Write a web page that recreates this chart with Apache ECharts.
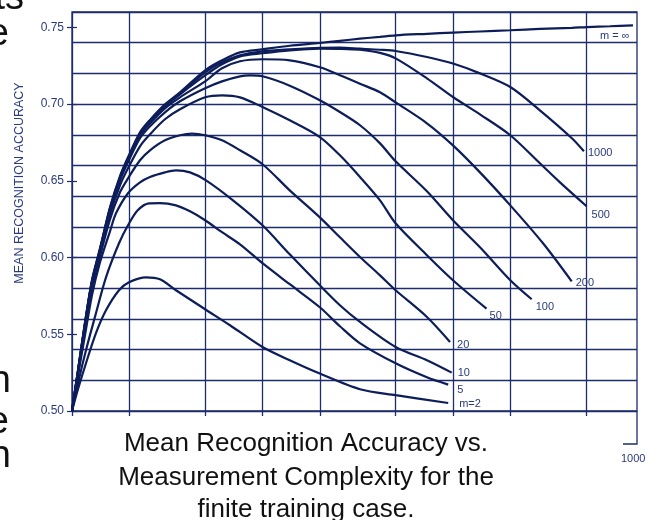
<!DOCTYPE html>
<html><head><meta charset="utf-8">
<script src="https://cdn.jsdelivr.net/npm/echarts@6/dist/echarts.min.js"></script>
<style>html,body{margin:0;padding:0;background:#fff}#c{width:657px;height:520px}</style>
</head><body><div id="c"></div>
<script>
// ---- data ----
const xGridValues = [1, 2, 5, 10, 20, 50, 100, 200, 500];
const yLabelValues = [0.50, 0.55, 0.60, 0.65, 0.70, 0.75];
const seriesNames = ['m = ∞', '1000', '500', '200', '100', '50', '20', '10', '5', 'm=2'];
const captionLines = ['Mean Recognition Accuracy vs.', 'Measurement Complexity for the', 'finite training case.'];
const yTitle = 'MEAN RECOGNITION ACCURACY';

const mInf = [[1,0.500],[1.075,0.5265],[1.17,0.5578],[1.273,0.5852],[1.403,0.6060],[1.583,0.6327],[1.786,0.6530],[1.968,0.6653],[2.275,0.6816],[2.567,0.6897],[3.077,0.6998],[3.69,0.7077],[5,0.7220],[6.13,0.7285],[7.62,0.7337],[10,0.7357],[13.9,0.7380],[20,0.7398],[25.5,0.7412],[32.5,0.7426],[41.4,0.7438],[50,0.7448],[73,0.7458],[100,0.7466],[138.6,0.7473],[200,0.7481],[286,0.7490],[421,0.7497],[505,0.7502],[667,0.7507],[881,0.7513]];
const m1000 = [[1,0.500],[1.075,0.5262],[1.17,0.5572],[1.273,0.5845],[1.403,0.6054],[1.583,0.6321],[1.786,0.6523],[1.968,0.6647],[2.275,0.6809],[2.567,0.6891],[3.077,0.6992],[3.69,0.7070],[5,0.7207],[6.13,0.7272],[7.62,0.7318],[10,0.7344],[13.9,0.7357],[20,0.7367],[25.5,0.7368],[32.5,0.7361],[41.4,0.7354],[50,0.7346],[73,0.7307],[100,0.7264],[138.6,0.7200],[200,0.7111],[286,0.6959],[421,0.6777],[487,0.6692]];
const m500 = [[1,0.500],[1.075,0.5259],[1.17,0.5568],[1.273,0.5842],[1.403,0.6050],[1.583,0.6314],[1.786,0.6516],[1.968,0.6640],[2.275,0.6803],[2.567,0.6881],[3.077,0.6985],[3.69,0.7064],[5,0.7187],[6.13,0.7259],[7.62,0.7311],[10,0.7331],[13.9,0.7350],[20,0.7361],[25.5,0.7360],[32.5,0.7354],[41.4,0.7334],[50,0.7298],[73,0.7168],[100,0.7046],[138.6,0.6933],[200,0.6797],[286,0.6614],[364.6,0.6490],[503,0.6334]];
const m200 = [[1,0.500],[1.075,0.5256],[1.17,0.5565],[1.273,0.5839],[1.403,0.6047],[1.583,0.6308],[1.786,0.6510],[1.968,0.6634],[2.275,0.6797],[2.567,0.6875],[3.077,0.6972],[3.69,0.7044],[5,0.7148],[6.13,0.7233],[7.62,0.7279],[10,0.7292],[13.9,0.7285],[20,0.7240],[25.5,0.7188],[32.5,0.7133],[41.4,0.7077],[50,0.7011],[73,0.6875],[100,0.6731],[138.6,0.6555],[200,0.6340],[297,0.6093],[420,0.5845]];
const m100 = [[1,0.500],[1.075,0.5253],[1.17,0.5559],[1.273,0.5832],[1.403,0.6041],[1.583,0.6301],[1.786,0.6503],[1.968,0.6621],[2.275,0.6777],[2.567,0.6855],[3.077,0.6946],[3.69,0.7018],[5,0.7103],[6.13,0.7148],[7.62,0.7181],[8.6,0.7187],[10,0.7181],[13.9,0.7120],[20,0.7025],[25.5,0.6948],[32.5,0.6862],[41.4,0.6744],[50,0.6627],[73,0.6432],[100,0.6243],[138.6,0.6067],[200,0.5852],[259,0.5728]];
const m50 = [[1,0.500],[1.075,0.5250],[1.17,0.5546],[1.273,0.5819],[1.403,0.6021],[1.583,0.6282],[1.786,0.6471],[1.968,0.6582],[2.275,0.6725],[2.567,0.6803],[3.077,0.6901],[3.69,0.6966],[5,0.7044],[6.13,0.7057],[7.62,0.7044],[10,0.6981],[13.9,0.6894],[20,0.6785],[25.5,0.6666],[32.5,0.6525],[41.4,0.6373],[50,0.6223],[73,0.6015],[100,0.5852],[150,0.5667]];
const m20 = [[1,0.500],[1.075,0.5246],[1.17,0.5533],[1.273,0.5800],[1.403,0.6008],[1.583,0.6249],[1.786,0.6425],[1.968,0.6516],[2.275,0.6634],[2.567,0.6699],[3.077,0.6764],[3.69,0.6797],[4.265,0.6808],[5,0.6797],[6.13,0.6764],[7.62,0.6699],[10,0.6608],[13.9,0.6438],[20,0.6262],[25.5,0.6132],[32.5,0.6004],[41.4,0.5884],[50,0.5787],[73,0.5613],[96.5,0.5450]];
const m10 = [[1,0.500],[1.075,0.5233],[1.17,0.5493],[1.273,0.5754],[1.403,0.5969],[1.583,0.6171],[1.702,0.6288],[1.968,0.6419],[2.275,0.6490],[2.567,0.6525],[3.077,0.6555],[3.515,0.6568],[4.164,0.6555],[5.05,0.6503],[7.0,0.6373],[10,0.6210],[13.9,0.6021],[20,0.5819],[25.5,0.5689],[32.5,0.5580],[50,0.5417],[73,0.5331],[98.5,0.5250]];
const m5 = [[1,0.500],[1.075,0.5181],[1.184,0.5396],[1.336,0.5637],[1.508,0.5871],[1.765,0.6093],[1.968,0.6210],[2.213,0.6308],[2.536,0.6353],[2.897,0.6355],[3.515,0.6340],[4.164,0.6301],[5,0.6243],[6.13,0.6165],[7.62,0.6086],[10,0.5963],[13.9,0.5826],[20,0.5676],[25.5,0.5552],[32.5,0.5441],[50,0.5311],[73,0.5220],[94.4,0.5172]];
const m2 = [[1,0.500],[1.071,0.5135],[1.184,0.5311],[1.336,0.5507],[1.508,0.5656],[1.765,0.5787],[1.992,0.5839],[2.446,0.5871],[2.897,0.5858],[3.515,0.5787],[5,0.5663],[6.752,0.5559],[10,0.5417],[13.9,0.5331],[20,0.5244],[32.5,0.5142],[50,0.5103],[94.4,0.5052]];

// ---- styling ----
const GRID = '#1c2c6c';
const CURVE = '#0c1d5a';
const LBL = '#2a3b7c';
const FONT = 'Liberation Sans, Arial, sans-serif';
const curves = [mInf, m1000, m500, m200, m100, m50, m20, m10, m5, m2];
const endOffsets = [[-33,11],[4,2],[5,9],[4,2],[4,8],[3,7],[7,3],[6,0],[9,5],[11,1]];

const chart = echarts.init(document.getElementById('c'), null, {renderer: 'canvas'});

// baseline -> middle-aligned y for the large page-text fragments
const FR = 38, frY = b => b - 0.35 * FR;
const graphics = [
  {type:'text', x:20, y:183, rotation:Math.PI/2,
   style:{text:yTitle, fill:LBL, font:'12.5px ' + FONT, textAlign:'center', textVerticalAlign:'middle'}},
  {type:'polyline', shape:{points:[[637,411],[637,444],[623,444]]}, style:{stroke:GRID, lineWidth:1.3, fill:null}},
  {type:'text', x:621, y:459, style:{text:'1000', fill:LBL, font:'11px ' + FONT, textAlign:'left', textVerticalAlign:'middle'}},
  // fragments of the surrounding page text
  {type:'text', x:24, y:frY(12), style:{text:'ts', fill:'#111', font:FR + 'px ' + FONT, textAlign:'right', textVerticalAlign:'middle'}},
  {type:'text', x:9, y:frY(48), style:{text:'e', fill:'#111', font:FR + 'px ' + FONT, textAlign:'right', textVerticalAlign:'middle'}},
  {type:'text', x:11, y:frY(395), style:{text:'n', fill:'#111', font:FR + 'px ' + FONT, textAlign:'right', textVerticalAlign:'middle'}},
  {type:'text', x:9, y:frY(436), style:{text:'e', fill:'#111', font:FR + 'px ' + FONT, textAlign:'right', textVerticalAlign:'middle'}},
  {type:'text', x:11, y:frY(470), style:{text:'n', fill:'#111', font:FR + 'px ' + FONT, textAlign:'right', textVerticalAlign:'middle'}}
];
const capY = [444, 478, 510];
captionLines.forEach((t, i) => graphics.push({
  type:'text', x:306, y:capY[i],
  style:{text:t, fill:'#111', font:'26px ' + FONT, textAlign:'center', textVerticalAlign:'middle'}
}));

chart.setOption({
  animation: false,
  graphic: graphics,
  grid: {left:72, top:12, width:565, height:399, show:true, borderColor:GRID, borderWidth:1.3,
         backgroundColor:'transparent', containLabel:false, outerBoundsMode:'none'},
  xAxis: {
    type:'log', logBase:10, min:1, max:925,
    axisLine:{show:false},
    axisTick:{show:true, customValues:xGridValues, length:5, lineStyle:{color:GRID, width:1.3}},
    axisLabel:{show:false},
    splitLine:{show:true, lineStyle:{color:GRID, width:1.3}}
  },
  yAxis: [
    {type:'value', position:'left', min:0.5, max:0.76, interval:0.02,
     axisLine:{show:false}, axisTick:{show:false}, axisLabel:{show:false},
     splitLine:{show:true, lineStyle:{color:GRID, width:1.3}}},
    {type:'value', position:'left', offset:0, min:0.5, max:0.76,
     axisLine:{show:false}, splitLine:{show:false},
     axisTick:{show:true, customValues:yLabelValues, length:5, lineStyle:{color:GRID, width:1.2}},
     axisLabel:{show:true, customValues:yLabelValues, formatter:v => v.toFixed(2), color:LBL, fontSize:12, fontFamily:FONT, margin:8}},
    {type:'value', position:'left', offset:0, min:0.5, max:0.76,
     axisLine:{show:false}, splitLine:{show:false}, axisLabel:{show:false},
     axisTick:{show:true, inside:true, customValues:yLabelValues, length:5, lineStyle:{color:GRID, width:1.2}}}
  ],
  series: curves.map((d, i) => ({
    type:'line', name:seriesNames[i], data:d, xAxisIndex:0, yAxisIndex:0,
    showSymbol:false, smooth:0.3, silent:true, z:3,
    lineStyle:{color:CURVE, width:2.2}, itemStyle:{color:CURVE},
    emphasis:{disabled:true},
    endLabel:{show:true, distance:0, offset:endOffsets[i], formatter:() => seriesNames[i],
              color:LBL, fontSize:11, fontFamily:FONT}
  }))
});
</script></body></html>
